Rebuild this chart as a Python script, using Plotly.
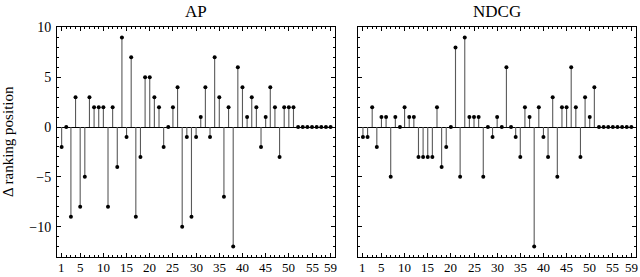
import plotly.graph_objects as go

positions = list(range(1, 60))
ap_delta = [-2, 0, -9, 3, -8, -5, 3, 2, 2, 2,
            -8, 2, -4, 9, -1, 7, -9, -3, 5, 5,
            3, 2, -2, 0, 2, 4, -10, -1, -9, -1,
            1, 4, -1, 7, 3, -7, 2, -12, 6, 4,
            1, 3, 2, -2, 1, 4, 2, -3, 2, 2,
            2, 0, 0, 0, 0, 0, 0, 0, 0]
ndcg_delta = [-1, -1, 2, -2, 1, 1, -5, 1, 0, 2,
              1, 1, -3, -3, -3, -3, 2, -4, -2, 0,
              8, -5, 9, 1, 1, 1, -5, 0, -1, 1,
              0, 6, 0, -1, -3, 2, 1, -12, 2, -1,
              -3, 3, -5, 2, 2, 6, 2, -3, 3, 1,
              4, 0, 0, 0, 0, 0, 0, 0, 0]
panel_titles = ["AP", "NDCG"]
x_tickvals = [1, 5, 10, 15, 20, 25, 30, 35, 40, 45, 50, 55, 59]
y_tickvals = [-10, -5, 0, 5, 10]
y_ticktext = ["\u221210", "\u22125", "0", "5", "10"]
y_title = "\u0394 ranking position"

FONT = "Liberation Serif"
fig = go.Figure()

def stems(xs, ys):
    sx, sy = [], []
    for x, y in zip(xs, ys):
        sx += [x, x, None]
        sy += [0, y, None]
    return sx, sy

for i, vals in enumerate([ap_delta, ndcg_delta]):
    xa = "x" if i == 0 else "x2"
    ya = "y" if i == 0 else "y2"
    sx, sy = stems(positions, vals)
    fig.add_trace(go.Scatter(x=sx, y=sy, mode="lines", xaxis=xa, yaxis=ya,
                             line=dict(color="#5a5a5a", width=1.1),
                             hoverinfo="skip", showlegend=False))
    fig.add_trace(go.Scatter(x=positions, y=vals, mode="markers", xaxis=xa, yaxis=ya,
                             marker=dict(color="black", size=4),
                             showlegend=False))

axis_common = dict(showline=True, linecolor="black", linewidth=1, mirror="allticks",
                   ticks="inside", ticklen=4, tickcolor="black", tickwidth=1,
                   showgrid=False, automargin=False,
                   tickfont=dict(family=FONT, size=14, color="black"))

minor = dict(dtick=1, tick0=0, ticks="inside", ticklen=2, tickcolor="black", showgrid=False)
xr = [0, 60]
yr = [-13.05, 10.05]
fig.update_layout(
    width=640, height=277,
    margin=dict(l=57, r=4, t=27, b=20),
    paper_bgcolor="white", plot_bgcolor="white",
    xaxis=dict(domain=[0, 0.4805], range=xr, tickvals=x_tickvals, zeroline=False,
               minor=minor, showticklabels=False, **axis_common),
    xaxis2=dict(domain=[0.5204, 1], range=xr, tickvals=x_tickvals, zeroline=False,
                minor=minor, showticklabels=False, **axis_common),
    yaxis=dict(anchor="x", range=yr, tickvals=y_tickvals, ticktext=y_ticktext,
               zeroline=True, zerolinecolor="black", zerolinewidth=1,
               minor=minor, ticklabelstandoff=2, **axis_common),
    yaxis2=dict(anchor="x2", range=yr, tickvals=y_tickvals, showticklabels=False,
                zeroline=True, zerolinecolor="black", zerolinewidth=1,
                minor=minor, **axis_common),
)

# x tick labels placed through each x axis scale
for xa in ["x", "x2"]:
    for v in x_tickvals:
        fig.add_annotation(text=str(v), xref=xa, yref="paper", x=v, y=0, yshift=-1,
                           xanchor="center", yanchor="top", showarrow=False,
                           font=dict(family=FONT, size=13, color="black"))

for i, t in enumerate(panel_titles):
    fig.add_annotation(text=t, xref="x domain" if i == 0 else "x2 domain", yref="paper",
                       x=0.5, y=1, yshift=4, yanchor="bottom", showarrow=False,
                       font=dict(family=FONT, size=17, color="black"))

fig.add_annotation(text=y_title, xref="paper", yref="paper", x=-0.0846, y=0.5,
                   xanchor="center", yanchor="middle", textangle=-90, showarrow=False,
                   font=dict(family=FONT, size=15, color="black"))

fig.write_html("out.html", config={"displayModeBar": False},
               post_script="document.body.style.margin='0px';document.body.style.overflow='hidden';")
